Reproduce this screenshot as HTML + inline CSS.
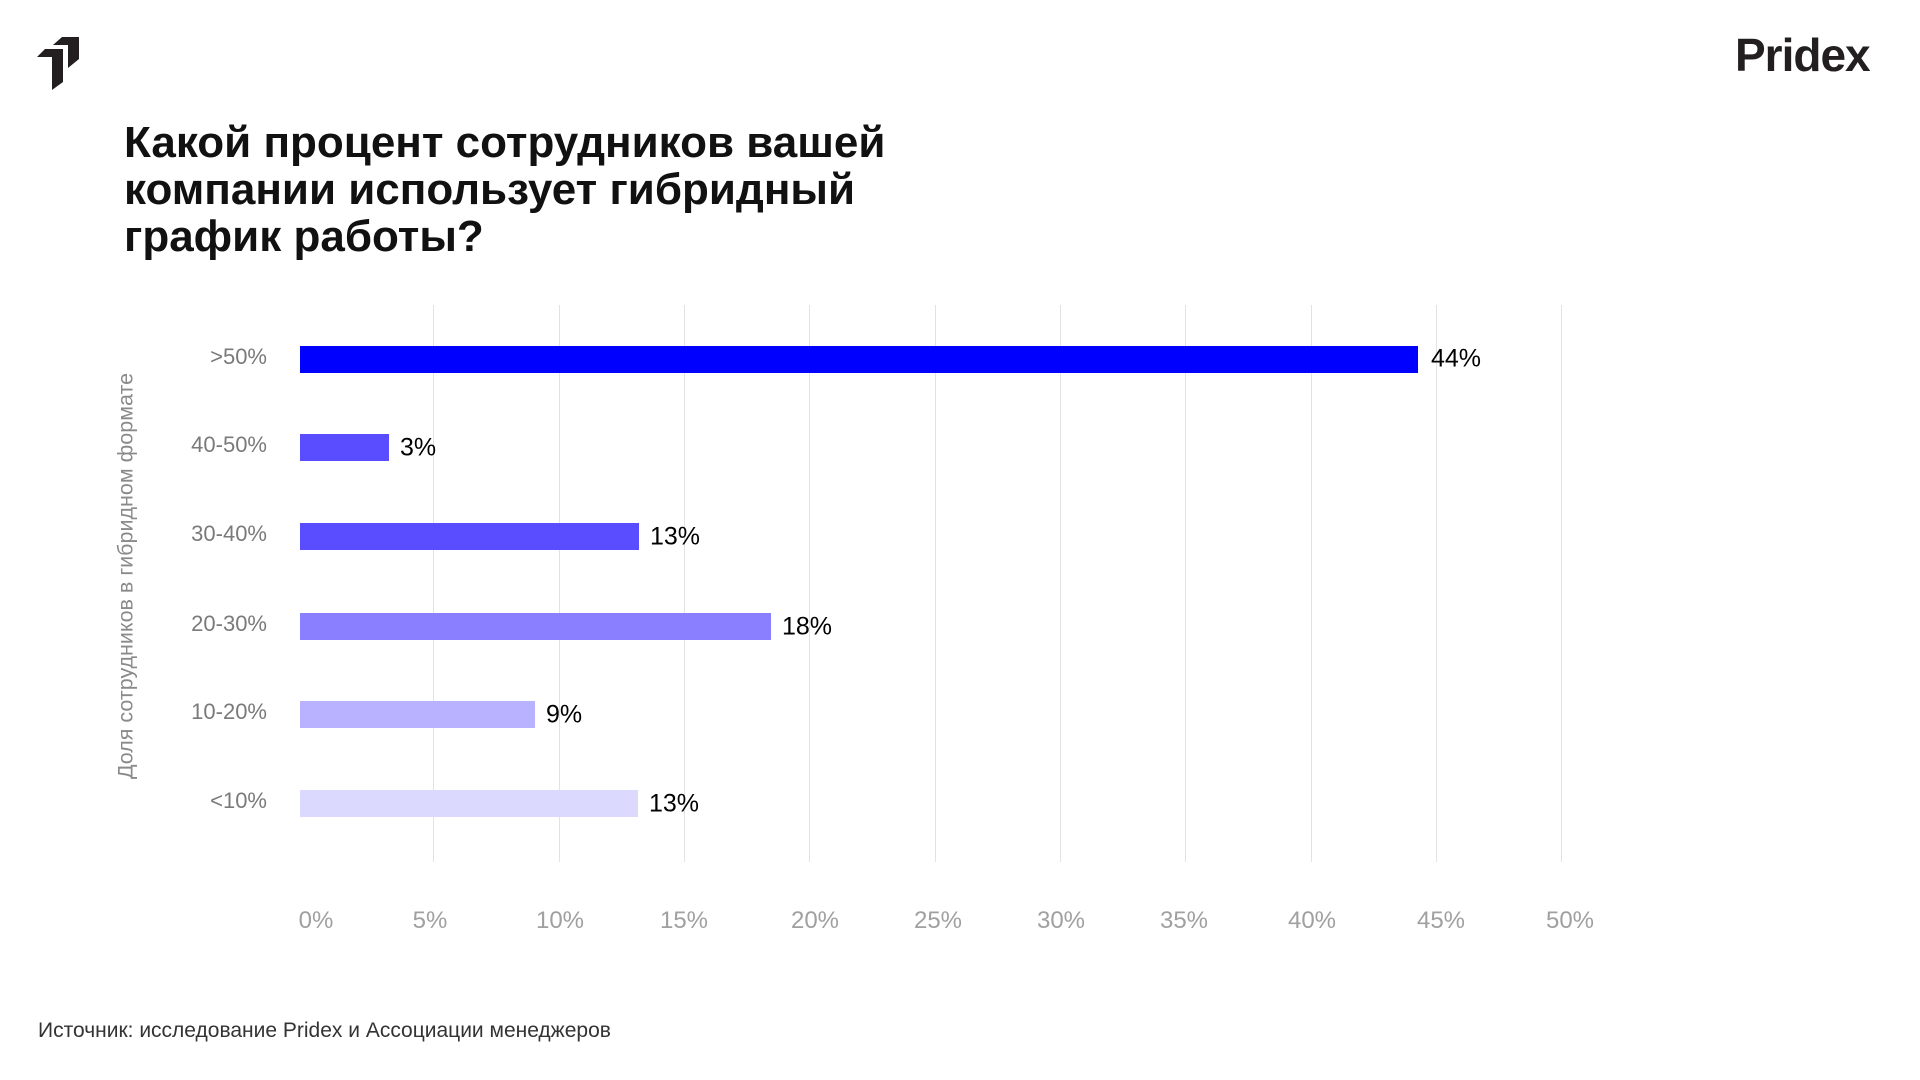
<!DOCTYPE html>
<html><head><meta charset="utf-8"><style>
body{margin:0;width:1920px;height:1080px;background:#fff;position:relative;overflow:hidden;font-family:"Liberation Sans",sans-serif}
.a{position:absolute}
.grid{position:absolute;top:305px;height:557px;width:1px;background:#e2e2e2}
.bar{position:absolute;left:300px;height:27px}
.cat{position:absolute;right:1653px;font-size:22px;color:#7a7a7a;transform:translateY(-50%)}
.val{position:absolute;font-size:25px;color:#000;transform:translateY(-50%)}
.tick{position:absolute;top:907px;font-size:24px;color:#a0a0a0;transform:translateX(-50%)}
</style></head><body>
<svg class="a" style="left:0;top:0" width="100" height="100"><polygon points="53,45 62,37 79,37 79,59 68,68 68,45" fill="#231f20"/><polygon points="37,57 45,49 63,49 63,82 52,90 52,57" fill="#231f20"/></svg>
<div class="a" style="left:1735px;top:28px;font-size:46px;font-weight:bold;letter-spacing:-1px;color:#231f20">Pridex</div>
<div class="a" style="left:124px;top:119px;font-size:44px;line-height:47px;font-weight:bold;color:#111">Какой процент сотрудников вашей<br>компании использует гибридный<br>график работы?</div>
<div class="grid" style="left:433px"></div><div class="grid" style="left:559px"></div><div class="grid" style="left:684px"></div><div class="grid" style="left:809px"></div><div class="grid" style="left:935px"></div><div class="grid" style="left:1060px"></div><div class="grid" style="left:1185px"></div><div class="grid" style="left:1311px"></div><div class="grid" style="left:1436px"></div><div class="grid" style="left:1561px"></div>
<div class="bar" style="top:346px;width:1118px;background:#0000ff"></div>
<div class="bar" style="top:434px;width:89px;background:#5a4dff"></div>
<div class="bar" style="top:523px;width:339px;background:#5a4dff"></div>
<div class="bar" style="top:613px;width:471px;background:#8a80ff"></div>
<div class="bar" style="top:701px;width:235px;background:#b9b3ff"></div>
<div class="bar" style="top:790px;width:338px;background:#dcd9ff"></div>
<div class="cat" style="top:357px">&gt;50%</div>
<div class="cat" style="top:445px">40-50%</div>
<div class="cat" style="top:534px">30-40%</div>
<div class="cat" style="top:624px">20-30%</div>
<div class="cat" style="top:712px">10-20%</div>
<div class="cat" style="top:801px">&lt;10%</div>
<div class="val" style="left:1431px;top:359px">44%</div>
<div class="val" style="left:400px;top:448px">3%</div>
<div class="val" style="left:650px;top:537px">13%</div>
<div class="val" style="left:782px;top:627px">18%</div>
<div class="val" style="left:546px;top:715px">9%</div>
<div class="val" style="left:649px;top:804px">13%</div>
<div class="tick" style="left:316px">0%</div><div class="tick" style="left:430px">5%</div><div class="tick" style="left:560px">10%</div><div class="tick" style="left:684px">15%</div><div class="tick" style="left:815px">20%</div><div class="tick" style="left:938px">25%</div><div class="tick" style="left:1061px">30%</div><div class="tick" style="left:1184px">35%</div><div class="tick" style="left:1312px">40%</div><div class="tick" style="left:1441px">45%</div><div class="tick" style="left:1570px">50%</div>
<div class="a" style="left:126px;top:576px;font-size:21.5px;color:#8a8a8a;white-space:nowrap;transform:translate(-50%,-50%) rotate(-90deg)">Доля сотрудников в гибридном формате</div>
<div class="a" style="left:38px;top:1019px;font-size:21px;color:#333">Источник: исследование Pridex и Ассоциации менеджеров</div>
</body></html>
